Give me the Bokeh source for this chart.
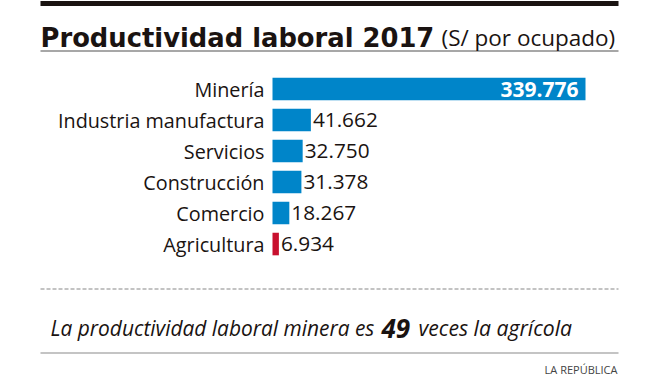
from bokeh.plotting import figure
from bokeh.models import Range1d, Label, ColumnDataSource
from bokeh.core.properties import value
from bokeh.embed import file_html
from bokeh.resources import INLINE

# ---- data ----
categories = ["Minería", "Industria manufactura", "Servicios", "Construcción", "Comercio", "Agricultura"]
values = [339776, 41662, 32750, 31378, 18267, 6934]
value_labels = ["339.776", "41.662", "32.750", "31.378", "18.267", "6.934"]
bar_colors = ["#0085C9", "#0085C9", "#0085C9", "#0085C9", "#0085C9", "#C8102E"]
title = "Productividad laboral 2017"
subtitle_unit = "(S/ por ocupado)"
note_parts = ["La productividad laboral minera es ", "49", " veces la agrícola"]
credit = "LA REPÚBLICA"

# ---- layout (image pixel space) ----
W, H = 670, 376
LEFT, TOP = 0, 0
BAR_X0 = 272          # px where value 0 sits
BAR_XMAX = 585        # px where the max value ends
ROW0 = 88.5           # px center of first row
ROW_STEP = 31.0       # px between rows

p = figure(width=W, height=H, x_range=Range1d(LEFT, LEFT + W), y_range=Range1d(TOP + H, TOP),
           output_backend="svg", toolbar_location=None, min_border=0,
           x_axis_location=None, y_axis_location=None, background_fill_color="white")
p.grid.visible = False
p.outline_line_color = None

# value scale and row scale as extra ranges
k = (BAR_XMAX - BAR_X0) / max(values)
p.extra_x_ranges = {"val": Range1d((LEFT - BAR_X0) / k, (LEFT + W - BAR_X0) / k)}
p.extra_y_ranges = {"row": Range1d((TOP + H - ROW0) / ROW_STEP, (TOP - ROW0) / ROW_STEP)}

rows = list(range(len(categories)))
src = ColumnDataSource(dict(cat=categories, val=values, lab=value_labels, col=bar_colors, row=rows,
                            zero=[0] * len(values)))

p.hbar(y="row", left=0, right="val", height=0.73, fill_color="col", line_color=None,
       source=src, x_range_name="val", y_range_name="row")

# category labels
p.text(x="zero", y="row", text="cat", source=src, x_range_name="val", y_range_name="row",
       text_align="right", text_baseline="middle", x_offset=-8,
       text_font=value("Open Sans"), text_font_size="19.8px", text_color="#1a1311")

# value labels (outside bars, except the first inside)
out_src = ColumnDataSource(dict(val=values[1:], lab=value_labels[1:], row=rows[1:]))
p.text(x="val", y="row", text="lab", source=out_src, x_range_name="val", y_range_name="row",
       text_align="left", text_baseline="middle", x_offset=2,
       text_font=value("Open Sans"), text_font_size="20.8px", text_color="#1a1311")
in_src = ColumnDataSource(dict(val=values[:1], lab=value_labels[:1], row=rows[:1]))
p.text(x="val", y="row", text="lab", source=in_src, x_range_name="val", y_range_name="row",
       text_align="right", text_baseline="middle", x_offset=-7,
       text_font=value("Open Sans"), text_font_size="21px", text_font_style="bold",
       text_color="white")

# rules
p.quad(left=40, right=618, top=0.5, bottom=5.5, fill_color="#1a1311", line_color=None)
p.segment(x0=40, x1=618, y0=50.5, y1=50.5, line_color="#8a8a8a", line_width=1.5)
p.segment(x0=40, x1=618, y0=288.5, y1=288.5, line_color="#b0b0b0", line_width=1.5, line_dash="4 2")
p.segment(x0=40, x1=618, y0=352.5, y1=352.5, line_color="#c4c4c4", line_width=2)

# title
p.add_layout(Label(x=40, y=37, text=title, text_font="DejaVu Sans", text_font_size="25.8px",
                   text_font_style="bold", text_color="#1a1311", text_baseline="alphabetic"))
p.add_layout(Label(x=441, y=37, text=subtitle_unit, text_font="Open Sans", text_font_size="22.5px",
                   text_color="#1a1311", text_baseline="alphabetic"))

# note
p.add_layout(Label(x=50, y=327, text=note_parts[0], text_font="Open Sans", text_font_size="20.9px",
                   text_font_style="italic", text_color="#1a1311", text_baseline="alphabetic"))
p.add_layout(Label(x=381, y=328, text=note_parts[1], text_font="Open Sans", text_font_size="26px",
                   text_font_style="bold italic", text_color="#1a1311", text_baseline="alphabetic"))
p.add_layout(Label(x=418, y=327, text=note_parts[2], text_font="Open Sans", text_font_size="21.2px",
                   text_font_style="italic", text_color="#1a1311", text_baseline="alphabetic"))

# credit
p.add_layout(Label(x=617, y=369, text=credit, text_font="Open Sans", text_font_size="11px",
                   text_color="#444444", text_align="right", text_baseline="alphabetic"))

open("out.html", "w").write(file_html(p, INLINE))
